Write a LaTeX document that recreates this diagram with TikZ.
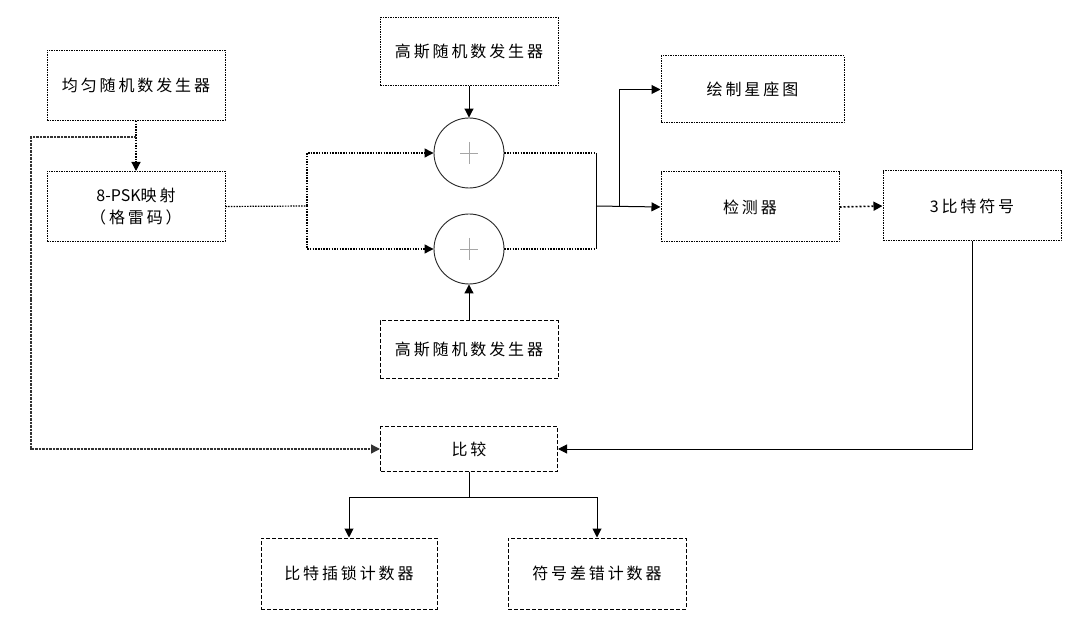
\documentclass[tikz,border=0pt]{standalone}
\usepackage{fontspec}
\setmainfont{Noto Sans CJK SC}
\newfontfamily\cjk[LetterSpace=18]{Noto Sans CJK SC}
\newfontfamily\lat{Noto Sans CJK SC}
\usetikzlibrary{arrows.meta,calc}
\tikzset{
  box/.style={draw=black, dash pattern=on 1.5pt off 1pt, line width=1pt, minimum width=178pt, minimum height=70pt, align=center, font=\fontsize{16}{22}\cjk, inner sep=0pt, text=black},
  dbox/.style={box, dash pattern=on 4pt off 2pt},
  sum/.style={draw=black!85, circle, line width=0.9pt, minimum size=70pt, inner sep=0pt},
  solidln/.style={draw=black, line width=1pt},
  dotln/.style={draw=black, dash pattern=on 1.5pt off 1.2pt, line width=1.2pt},
  loopln/.style={draw=black!80, dash pattern=on 1pt off 0.4pt, line width=1.3pt},
  tip/.style={-{Triangle[length=9pt,width=9pt]}},
}
\begin{document}
\begin{tikzpicture}[x=1pt,y=-1pt]
\useasboundingbox (0,0) rectangle (1069,628);
\fill[white] (0,0) rectangle (1069,628);
% nodes
\node[box] (uni) at (136,85.5) {均匀随机数发生器};
\node[box] (psk) at (136,206.5) {{\lat 8-PSK}映射\\（格雷码）};
\node[box, minimum height=68pt] (g1) at (469,52) {高斯随机数发生器};
\node[dbox, minimum height=58pt] (g2) at (469,350) {高斯随机数发生器};
\node[sum] (c1) at (469,153) {};
\node[sum] (c2) at (469,249) {};
\node[box, minimum width=183pt, minimum height=67pt] (drw) at (752.5,89.5) {绘制星座图};
\node[box] (det) at (750,207) {检测器};
\node[box] (bit) at (972,206) {3比特符号};
\node[dbox, minimum width=177pt, minimum height=44pt] (cmp) at (469,449) {比较};
\node[dbox, minimum width=176pt, minimum height=71pt] (cnt1) at (349,573.5) {比特插锁计数器};
\node[dbox, minimum height=71pt] (cnt2) at (597,573.5) {符号差错计数器};
% plus signs
\foreach \c in {c1,c2}{
  \draw[gray!70, line width=0.9pt] ($(\c.center)+(-9,0)$) -- ($(\c.center)+(9,0)$);
  \draw[gray!70, line width=0.9pt] ($(\c.center)+(0,-11)$) -- ($(\c.center)+(0,11)$);
}
% coordinates
\coordinate (b1) at (136,137);
\coordinate (lp) at (31,300);
\coordinate (split) at (307,206);
\coordinate (merge) at (596,206);
\coordinate (m1) at (596,153);
\coordinate (m2) at (596,249);
\coordinate (br) at (619,206);
\coordinate (sp) at (469,497);
% connectors
\draw[dotln, tip] (uni.south) -- (psk.north);
\draw[loopln] (b1) -| (lp);
\draw[loopln, tip] (lp) |- (cmp.west);
\draw[dotln] (psk.east) -- (split);
\draw[dotln, tip] (split) |- (c1.west);
\draw[dotln, tip] (split) |- (c2.west);
\draw[solidln, tip] (g1.south) -- (c1.north);
\draw[solidln, tip] (g2.north) -- (c2.south);
\draw[dotln] (c1.east) -- (m1);
\draw[dotln] (c2.east) -- (m2);
\draw[solidln] (m1) -- (m2);
\draw[solidln, tip] (merge) -- (det.west);
\draw[solidln, tip] (br) |- (drw.west);
\draw[dotln, line width=1.6pt, dash pattern=on 2pt off 2pt, tip] (det.east) -- (bit.west);
\draw[solidln, tip] (bit.south) |- (cmp.east);
\draw[solidln] (cmp.south) -- (sp);
\draw[solidln, tip] (sp) -| (cnt1.north);
\draw[solidln, tip] (sp) -| (cnt2.north);
\end{tikzpicture}
\end{document}
